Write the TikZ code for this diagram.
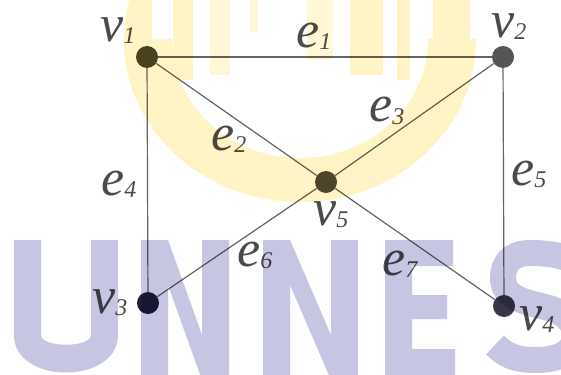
\documentclass[tikz,border=0pt]{standalone}
\usepackage{fontspec}
\setmainfont{Liberation Serif}
\definecolor{wmY}{RGB}{255,244,198}
\definecolor{wmYl}{RGB}{255,247,214}
\definecolor{wmL}{RGB}{198,198,226}
\definecolor{edgec}{RGB}{100,100,100}
\definecolor{lblc}{RGB}{75,75,75}
\definecolor{vtxa}{RGB}{74,68,40}
\definecolor{vtxb}{RGB}{85,85,85}
\definecolor{vtxc}{RGB}{76,73,56}
\definecolor{vtxd}{RGB}{30,30,58}
\definecolor{vtxe}{RGB}{55,55,72}
\tikzset{
  vert/.style={circle,minimum size=22pt,inner sep=0pt},
  edge/.style={draw=edgec,line width=1.2pt},
  lbl/.style={anchor=base west,inner sep=0pt,text=lblc,font=\fontsize{52}{52}\selectfont\itshape},
  wm/.style={fill=wmL}
}
\newcommand{\lab}[2]{#1\raisebox{-2pt}{\fontsize{24}{24}\selectfont #2}}
\begin{document}
\begin{tikzpicture}[x=1pt,y=-1pt]
\useasboundingbox (0,0) rectangle (561,374);
\fill[white] (0,0) rectangle (561,374);
% watermark: yellow logo
\begin{scope}
  \clip (0,40) rectangle (561,374);
  \fill[wmY,even odd rule] (300,40) ellipse [x radius=176,y radius=162] (300,40) ellipse [x radius=128,y radius=118];
\end{scope}
\begin{scope}
  \clip (300,40) ellipse [x radius=176,y radius=162];
  \fill[wmY] (122,0) rectangle (152,80);
  \fill[wmY] (173,0) rectangle (193,80);
  \fill[wmYl] (210,0) rectangle (230,75);
  \fill[wmYl] (250,0) rectangle (258,32);
  \fill[wmYl] (307,0) rectangle (333,60);
  \fill[wmY] (350,0) rectangle (383,75);
  \fill[wmY] (397,0) rectangle (410,80);
  \fill[wmY] (433,0) rectangle (470,80);
\end{scope}
% watermark: letters U N N E S
\fill[wm] (14,240) -- (41,240) -- (41,335) .. controls (41,348) and (91,348) .. (91,335)
  -- (91,240) -- (118,240) -- (118,335) .. controls (118,385) and (14,385) .. (14,335) -- cycle;
\fill[wm] (141,380) -- (141,240) -- (168,240) -- (202,335) -- (202,240) -- (229,240) -- (229,380) -- (202,380) -- (168,285) -- (168,380) -- cycle;
\fill[wm] (263,380) -- (263,240) -- (290,240) -- (331,335) -- (331,240) -- (358,240) -- (358,380) -- (331,380) -- (290,285) -- (290,380) -- cycle;
\fill[wm] (385,240) -- (453,240) -- (453,266) -- (412,266) -- (412,295) -- (447,295) -- (447,319) -- (412,319) -- (412,349) -- (455,349) -- (455,380) -- (385,380) -- cycle;
\draw[draw=wmL,line width=26pt] (585,268) .. controls (570,256) and (550,253) .. (530,253)
  .. controls (510,253) and (503,265) .. (503,278) .. controls (503,298) and (525,302) .. (545,307)
  .. controls (565,312) and (575,322) .. (575,335) .. controls (575,352) and (560,360) .. (535,360)
  .. controls (515,360) and (505,355) .. (495,345);
% graph
\begin{scope}[blend mode=multiply]
\node[vert,fill=vtxa] (v1) at (147,57) {};
\node[vert,fill=vtxb] (v2) at (503,57) {};
\node[vert,fill=vtxc] (v5) at (326,182) {};
\node[vert,fill=vtxd] (v3) at (148,303) {};
\node[vert,fill=vtxe] (v4) at (504,306) {};
\draw[edge] (v1) -- (v2);
\draw[edge] (v1) -- (v5);
\draw[edge] (v2) -- (v5);
\draw[edge] (v1) -- (v3);
\draw[edge] (v2) -- (v4);
\draw[edge] (v5) -- (v3);
\draw[edge] (v5) -- (v4);
\node[lbl] (lv1) at (100,42) {\lab{v}{1}};
\node[lbl] (lv2) at (491,38) {\lab{v}{2}};
\node[lbl] (lv5) at (313,225) {\lab{v}{5}};
\node[lbl] (lv3) at (92,313) {\lab{v}{3}};
\node[lbl] (lv4) at (519,330) {\lab{v}{4}};
\node[lbl] (le1) at (296,48) {\lab{e}{1}};
\node[lbl] (le2) at (211,150) {\lab{e}{2}};
\node[lbl] (le3) at (369,122) {\lab{e}{3}};
\node[lbl] (le4) at (101,195) {\lab{e}{4}};
\node[lbl] (le5) at (511,185) {\lab{e}{5}};
\node[lbl] (le6) at (237,266) {\lab{e}{6}};
\node[lbl] (le7) at (382,275) {\lab{e}{7}};
\end{scope}
\end{tikzpicture}
\end{document}
